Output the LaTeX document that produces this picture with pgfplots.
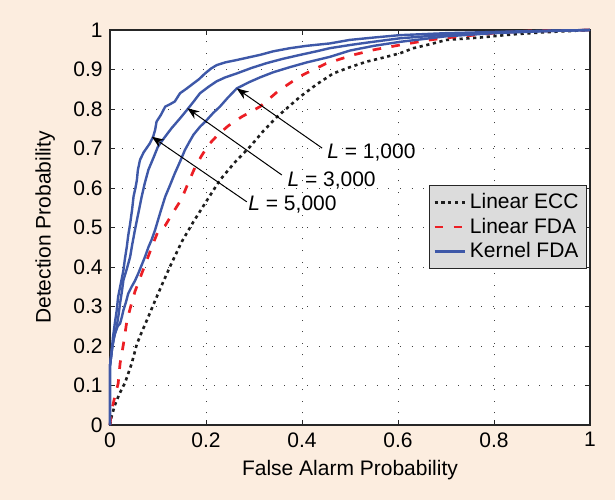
\documentclass[border=0pt]{standalone}
\usepackage{pgfplots}
\pgfplotsset{compat=1.18}
\usepackage{fontspec}
\setmainfont{Liberation Sans}
\usetikzlibrary{arrows.meta}
\definecolor{bgpeach}{RGB}{252,237,223}
\definecolor{kblue}{RGB}{62,88,168}
\definecolor{fred}{RGB}{236,30,36}
\definecolor{leggray}{RGB}{220,220,220}
\definecolor{eccblack}{RGB}{30,30,30}
\newcommand{\chartfont}{\fontsize{10.5pt}{12.5pt}\selectfont}
\begin{document}
\chartfont
\begin{tikzpicture}[font=\chartfont]
\fill[bgpeach] (0,0) rectangle (307.5pt,250pt);
\begin{axis}[
  at={(55pt,37.5pt)}, anchor=south west,
  scale only axis, width=240pt, height=197.5pt,
  xmin=0, xmax=1, ymin=0, ymax=1,
  axis background/.style={fill=white},
  xtick={0,0.2,0.4,0.6,0.8,1},
  ytick={0,0.1,0.2,0.3,0.4,0.5,0.6,0.7,0.8,0.9,1},
  /pgf/number format/assume math mode=true,
  tick label style={font=\chartfont},
  label style={font=\chartfont},
  tick align=inside, major tick length=2.5pt,
  xtick pos=both, ytick pos=both,
  axis line style={black!85, line width=0.6pt},
  tick style={black!85, line width=0.5pt},
  grid=major,
  major grid style={black!75, line width=0.5pt, dash pattern=on 0.5pt off 5.3pt},
  xlabel={False Alarm Probability},
  ylabel={Detection Probability},
  x label style={at={(axis description cs:0.5,-0.113)}, anchor=center},
  y label style={at={(axis description cs:-0.135,0.5)}, anchor=center},
  clip=false,
  legend cell align=left,
  legend style={at={(rel axis cs:0.994,0.608)}, anchor=north east, fill=leggray, draw=black!85, line width=0.6pt, inner sep=2pt, row sep=-1pt, font=\chartfont},
  legend image code/.code={\draw[#1] (0pt,0pt) -- (15pt,0pt);},
]
\addplot[eccblack, line width=1.3pt, dash pattern=on 1.6pt off 1.8pt] coordinates {
(0,0) (0.003,0.02) (0.01,0.05) (0.02,0.08) (0.031,0.106) (0.045,0.155) (0.056,0.205) (0.066,0.235) (0.075,0.26) (0.094,0.315) (0.11,0.36) (0.128,0.409) (0.15,0.465) (0.174,0.515) (0.2,0.565) (0.229,0.62) (0.26,0.665) (0.292,0.705) (0.32,0.745) (0.347,0.779) (0.396,0.831) (0.43,0.862) (0.465,0.89) (0.5,0.906) (0.535,0.92) (0.5625,0.928) (0.604,0.941) (0.632,0.954) (0.67,0.965) (0.701,0.975) (0.771,0.981) (0.84,0.989) (0.9,0.994) (1,1)};
\addlegendentry{Linear ECC}
\addplot[fred, line width=1.35pt, dash pattern=on 4.3pt off 5.2pt] coordinates {
(0,0) (0.003,0.034) (0.01,0.072) (0.017,0.105) (0.021,0.156) (0.028,0.205) (0.035,0.262) (0.042,0.295) (0.052,0.338) (0.062,0.37) (0.075,0.412) (0.09,0.46) (0.10,0.49) (0.115,0.505) (0.135,0.545) (0.149,0.572) (0.162,0.61) (0.177,0.652) (0.19,0.68) (0.205,0.709) (0.225,0.735) (0.246,0.757) (0.274,0.78) (0.3125,0.806) (0.35,0.845) (0.396,0.883) (0.45,0.915) (0.507,0.937) (0.55,0.95) (0.604,0.962) (0.667,0.975) (0.708,0.981) (0.8,0.992) (0.86,0.997) (1,1)};
\addlegendentry{Linear FDA}
\addplot[kblue, line width=1.2pt] coordinates {
(0,0) (0,0.15) (0.003,0.18) (0.006,0.22) (0.010,0.257) (0.014,0.29) (0.017,0.325) (0.022,0.355) (0.028,0.392) (0.031,0.42) (0.035,0.451) (0.038,0.48) (0.042,0.51) (0.046,0.545) (0.049,0.578) (0.053,0.60) (0.056,0.62) (0.058,0.645) (0.0625,0.671) (0.07,0.69) (0.083,0.713) (0.09,0.73) (0.094,0.747) (0.097,0.768) (0.106,0.785) (0.115,0.806) (0.125,0.812) (0.135,0.819) (0.146,0.84) (0.16,0.852) (0.174,0.865) (0.185,0.875) (0.198,0.89) (0.21,0.902) (0.222,0.911) (0.24,0.918) (0.264,0.924) (0.29,0.931) (0.3125,0.937) (0.34,0.946) (0.375,0.954) (0.41,0.96) (0.458,0.966) (0.5,0.975) (0.55,0.981) (0.604,0.987) (0.7,0.992) (0.8,0.995) (0.9,0.998) (1,1)};
\addlegendentry{Kernel FDA}
\addplot[kblue, line width=1.2pt, forget plot] coordinates {
(0,0) (0,0.15) (0.004,0.19) (0.008,0.22) (0.014,0.249) (0.018,0.28) (0.021,0.308) (0.025,0.34) (0.028,0.367) (0.035,0.395) (0.042,0.426) (0.046,0.455) (0.052,0.494) (0.058,0.53) (0.066,0.578) (0.072,0.61) (0.08,0.646) (0.09,0.675) (0.10,0.705) (0.113,0.727) (0.128,0.751) (0.145,0.775) (0.16,0.797) (0.175,0.82) (0.1875,0.84) (0.205,0.856) (0.222,0.87) (0.24,0.88) (0.264,0.89) (0.295,0.904) (0.326,0.916) (0.36,0.927) (0.396,0.937) (0.43,0.946) (0.458,0.954) (0.5,0.962) (0.535,0.968) (0.604,0.979) (0.7,0.988) (0.8,0.994) (0.9,0.997) (1,1)};
\addplot[kblue, line width=1.2pt, forget plot] coordinates {
(0,0) (0,0.15) (0.005,0.2) (0.01,0.23) (0.016,0.25) (0.021,0.257) (0.025,0.275) (0.028,0.291) (0.033,0.31) (0.038,0.333) (0.045,0.35) (0.052,0.365) (0.059,0.384) (0.066,0.405) (0.073,0.426) (0.08,0.45) (0.087,0.47) (0.094,0.494) (0.104,0.535) (0.115,0.578) (0.125,0.607) (0.135,0.637) (0.146,0.667) (0.156,0.696) (0.165,0.716) (0.174,0.735) (0.1875,0.755) (0.2,0.77) (0.215,0.79) (0.229,0.806) (0.245,0.828) (0.264,0.852) (0.29,0.868) (0.3125,0.88) (0.34,0.893) (0.375,0.906) (0.41,0.918) (0.458,0.932) (0.5,0.948) (0.55,0.96) (0.604,0.97) (0.7,0.984) (0.8,0.992) (0.9,0.997) (1,1)};
\draw[black, line width=0.5pt, -{Stealth[length=6pt,width=4.5pt]}] (axis cs:0.442,0.701) -- (axis cs:0.264,0.852);
\draw[black, line width=0.5pt, -{Stealth[length=6pt,width=4.5pt]}] (axis cs:0.358,0.633) -- (axis cs:0.161,0.802);
\draw[black, line width=0.5pt, -{Stealth[length=6pt,width=4.5pt]}] (axis cs:0.285,0.565) -- (axis cs:0.087,0.73);
\node[anchor=west, inner sep=0pt] at (axis cs:0.452,0.689) {\textit{L} = 1,000};
\node[anchor=west, inner sep=0pt] at (axis cs:0.369,0.62) {\textit{L} = 3,000};
\node[anchor=west, inner sep=0pt] at (axis cs:0.2875,0.557) {\textit{L} = 5,000};
\end{axis}
\pgfresetboundingbox
\path[use as bounding box] (0,0) rectangle (307.5pt,250pt);
\end{tikzpicture}
\end{document}
